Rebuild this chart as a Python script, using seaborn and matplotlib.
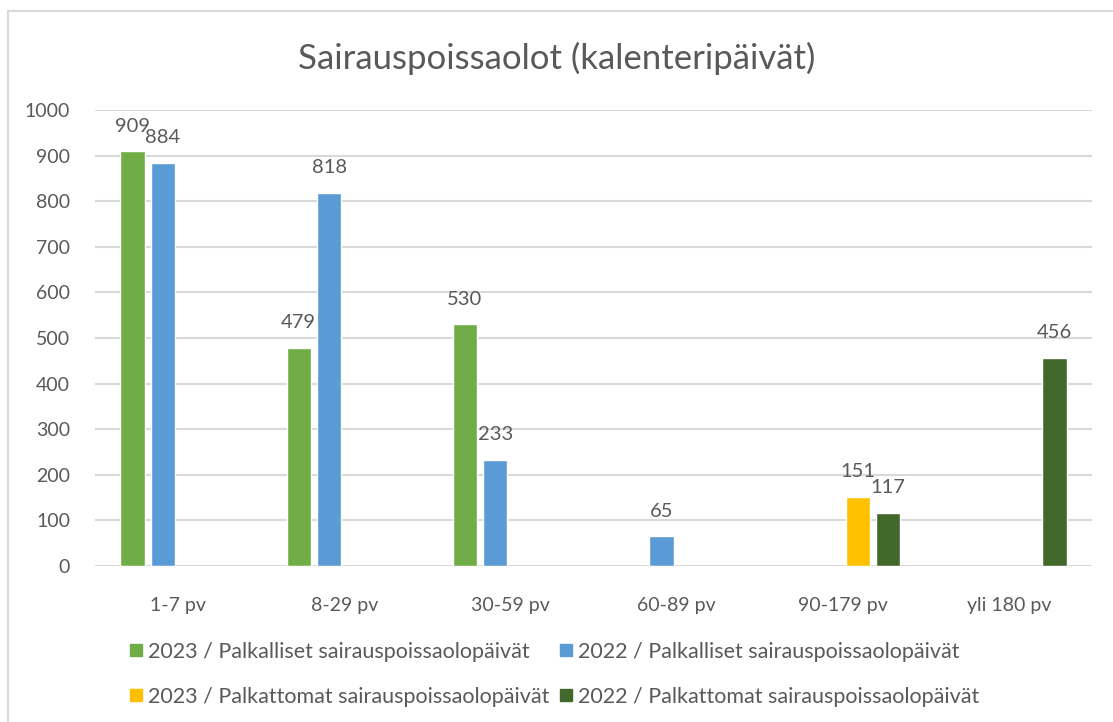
import numpy as np
import pandas as pd
import matplotlib
matplotlib.use("Agg")
import matplotlib.pyplot as plt
import seaborn as sns
from matplotlib.lines import Line2D

categories = ["1-7 pv", "8-29 pv", "30-59 pv", "60-89 pv", "90-179 pv", "yli 180 pv"]
series_names = [
    "2023 / Palkalliset sairauspoissaolopäivät",
    "2022 / Palkalliset sairauspoissaolopäivät",
    "2023 / Palkattomat sairauspoissaolopäivät",
    "2022 / Palkattomat sairauspoissaolopäivät",
]
paid_2023 = [909, 479, 530, np.nan, np.nan, np.nan]
paid_2022 = [884, 818, 233, 65, np.nan, np.nan]
unpaid_2023 = [np.nan, np.nan, np.nan, np.nan, 151, np.nan]
unpaid_2022 = [np.nan, np.nan, np.nan, np.nan, 117, 456]
colors = ["#70AD47", "#5B9BD5", "#FFC000", "#43682B"]
y_ticks = [0, 100, 200, 300, 400, 500, 600, 700, 800, 900, 1000]

rows = []
for name, vals in zip(series_names, [paid_2023, paid_2022, unpaid_2023, unpaid_2022]):
    for c, v in zip(categories, vals):
        rows.append({"cat": c, "series": name, "value": v})
df = pd.DataFrame(rows).dropna()

sns.set_theme(style="white")
plt.rcParams["font.family"] = ["Lato", "DejaVu Sans"]
txt = "#595959"

fig = plt.figure(figsize=(11.13, 7.22), dpi=100)
ax = fig.add_axes([95 / 1113, 1 - 566 / 722, (1092 - 95) / 1113, (566 - 110) / 722])

sns.barplot(data=df, x="cat", y="value", hue="series", order=categories,
            hue_order=series_names, palette=colors, saturation=1, width=0.73, gap=0.2,
            errorbar=None, ax=ax, legend=True)

for cont in ax.containers:
    ax.bar_label(cont, fmt="%d", padding=12, color=txt, fontsize=14.5)

ax.set_ylim(0, 1000)
ax.set_yticks(y_ticks)
ax.set_xlim(-0.5, len(categories) - 0.5)
ax.yaxis.grid(True, color="#D9D9D9", linewidth=1.5)
ax.set_axisbelow(True)
for s in ax.spines.values():
    s.set_visible(False)
ax.tick_params(axis="both", length=0, labelsize=14, labelcolor=txt)
ax.tick_params(axis="y", pad=18)
ax.tick_params(axis="x", pad=22)
ax.set_xlabel("")
ax.set_ylabel("")
ax.get_legend().remove()

fig.text(0.5, 1 - 58 / 722, "Sairauspoissaolot (kalenteripäivät)", ha="center", va="center",
         fontsize=25, color=txt)

# legend entries
positions = [(130, 652), (560, 652), (130, 697), (560, 697)]
for name, col, (px, py) in zip(series_names, colors, positions):
    h = Line2D([], [], marker="s", linestyle="none", markersize=8.5,
               markerfacecolor=col, markeredgecolor=col)
    fig.legend([h], [name], loc="center left", bbox_to_anchor=(px / 1113, 1 - py / 722),
               frameon=False, fontsize=15.5, labelcolor=txt, handlelength=0.6,
               handletextpad=0.25, borderpad=0, borderaxespad=0)

# frame lines (top and left)
fig.add_artist(Line2D([8 / 1113, 1], [1 - 11 / 722, 1 - 11 / 722], color="#D9D9D9", linewidth=1.5))
fig.add_artist(Line2D([8 / 1113, 8 / 1113], [0, 1 - 11 / 722], color="#D9D9D9", linewidth=1.5))

fig.savefig("out.png", dpi=100, facecolor="white")
